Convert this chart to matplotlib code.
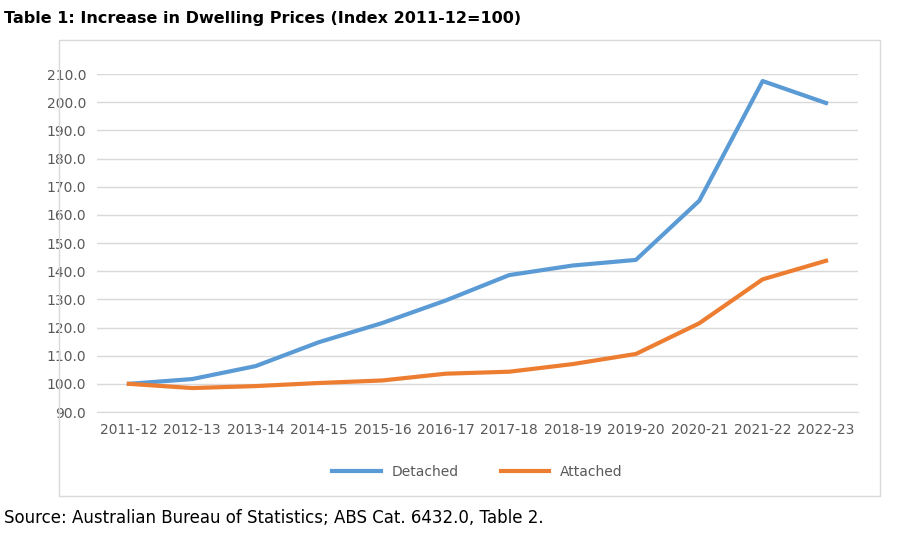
import matplotlib.pyplot as plt
from matplotlib.patches import Rectangle

years = ['2011-12', '2012-13', '2013-14', '2014-15', '2015-16', '2016-17',
         '2017-18', '2018-19', '2019-20', '2020-21', '2021-22', '2022-23']
detached = [100.0, 101.7, 106.3, 114.8, 121.6, 129.6, 138.6, 142.0, 144.0, 165.0, 207.5, 199.7]
attached = [100.0, 98.5, 99.2, 100.3, 101.2, 103.6, 104.3, 107.0, 110.6, 121.5, 137.1, 143.7]

fig = plt.figure(figsize=(9, 5.46), dpi=100)
fig.patch.set_facecolor('white')

# chart frame
fig.patches.append(Rectangle((0.065, 1 - 496/546), 0.913, (496 - 40)/546, transform=fig.transFigure,
                             fill=False, edgecolor='#d9d9d9', lw=1))

ax = fig.add_axes([0.108, 1 - 412/546, 0.845, 338/546])
x = range(len(years))
ax.plot(x, detached, color='#5b9bd5', lw=3, label='Detached')
ax.plot(x, attached, color='#ed7d31', lw=3, label='Attached')
ax.set_xlim(-0.5, len(years) - 0.5)
ax.set_ylim(90, 210)
ax.set_yticks(range(90, 211, 10))
ax.set_yticklabels([f'{v:.1f}' for v in range(90, 211, 10)])
ax.set_xticks(list(x))
ax.set_xticklabels(years)
ax.grid(axis='y', color='#d9d9d9', lw=1)
ax.set_axisbelow(True)
for s in ['top', 'right', 'left']:
    ax.spines[s].set_visible(False)
ax.spines['bottom'].set_color('#d9d9d9')
ax.tick_params(length=0, labelsize=10, colors='#595959', pad=8)

ax.legend(loc='upper center', bbox_to_anchor=(0.5, -0.12), ncol=2, frameon=False,
          fontsize=10, labelcolor='#595959', handlelength=3.5, columnspacing=3)

fig.text(0.005, 1 - 18/546, 'Table 1: Increase in Dwelling Prices (Index 2011-12=100)',
         fontsize=11.5, fontweight='bold', va='center')
fig.text(0.005, 1 - 518/546, 'Source: Australian Bureau of Statistics; ABS Cat. 6432.0, Table 2.',
         fontsize=12, va='center')

fig.savefig('out.png', dpi=100)
